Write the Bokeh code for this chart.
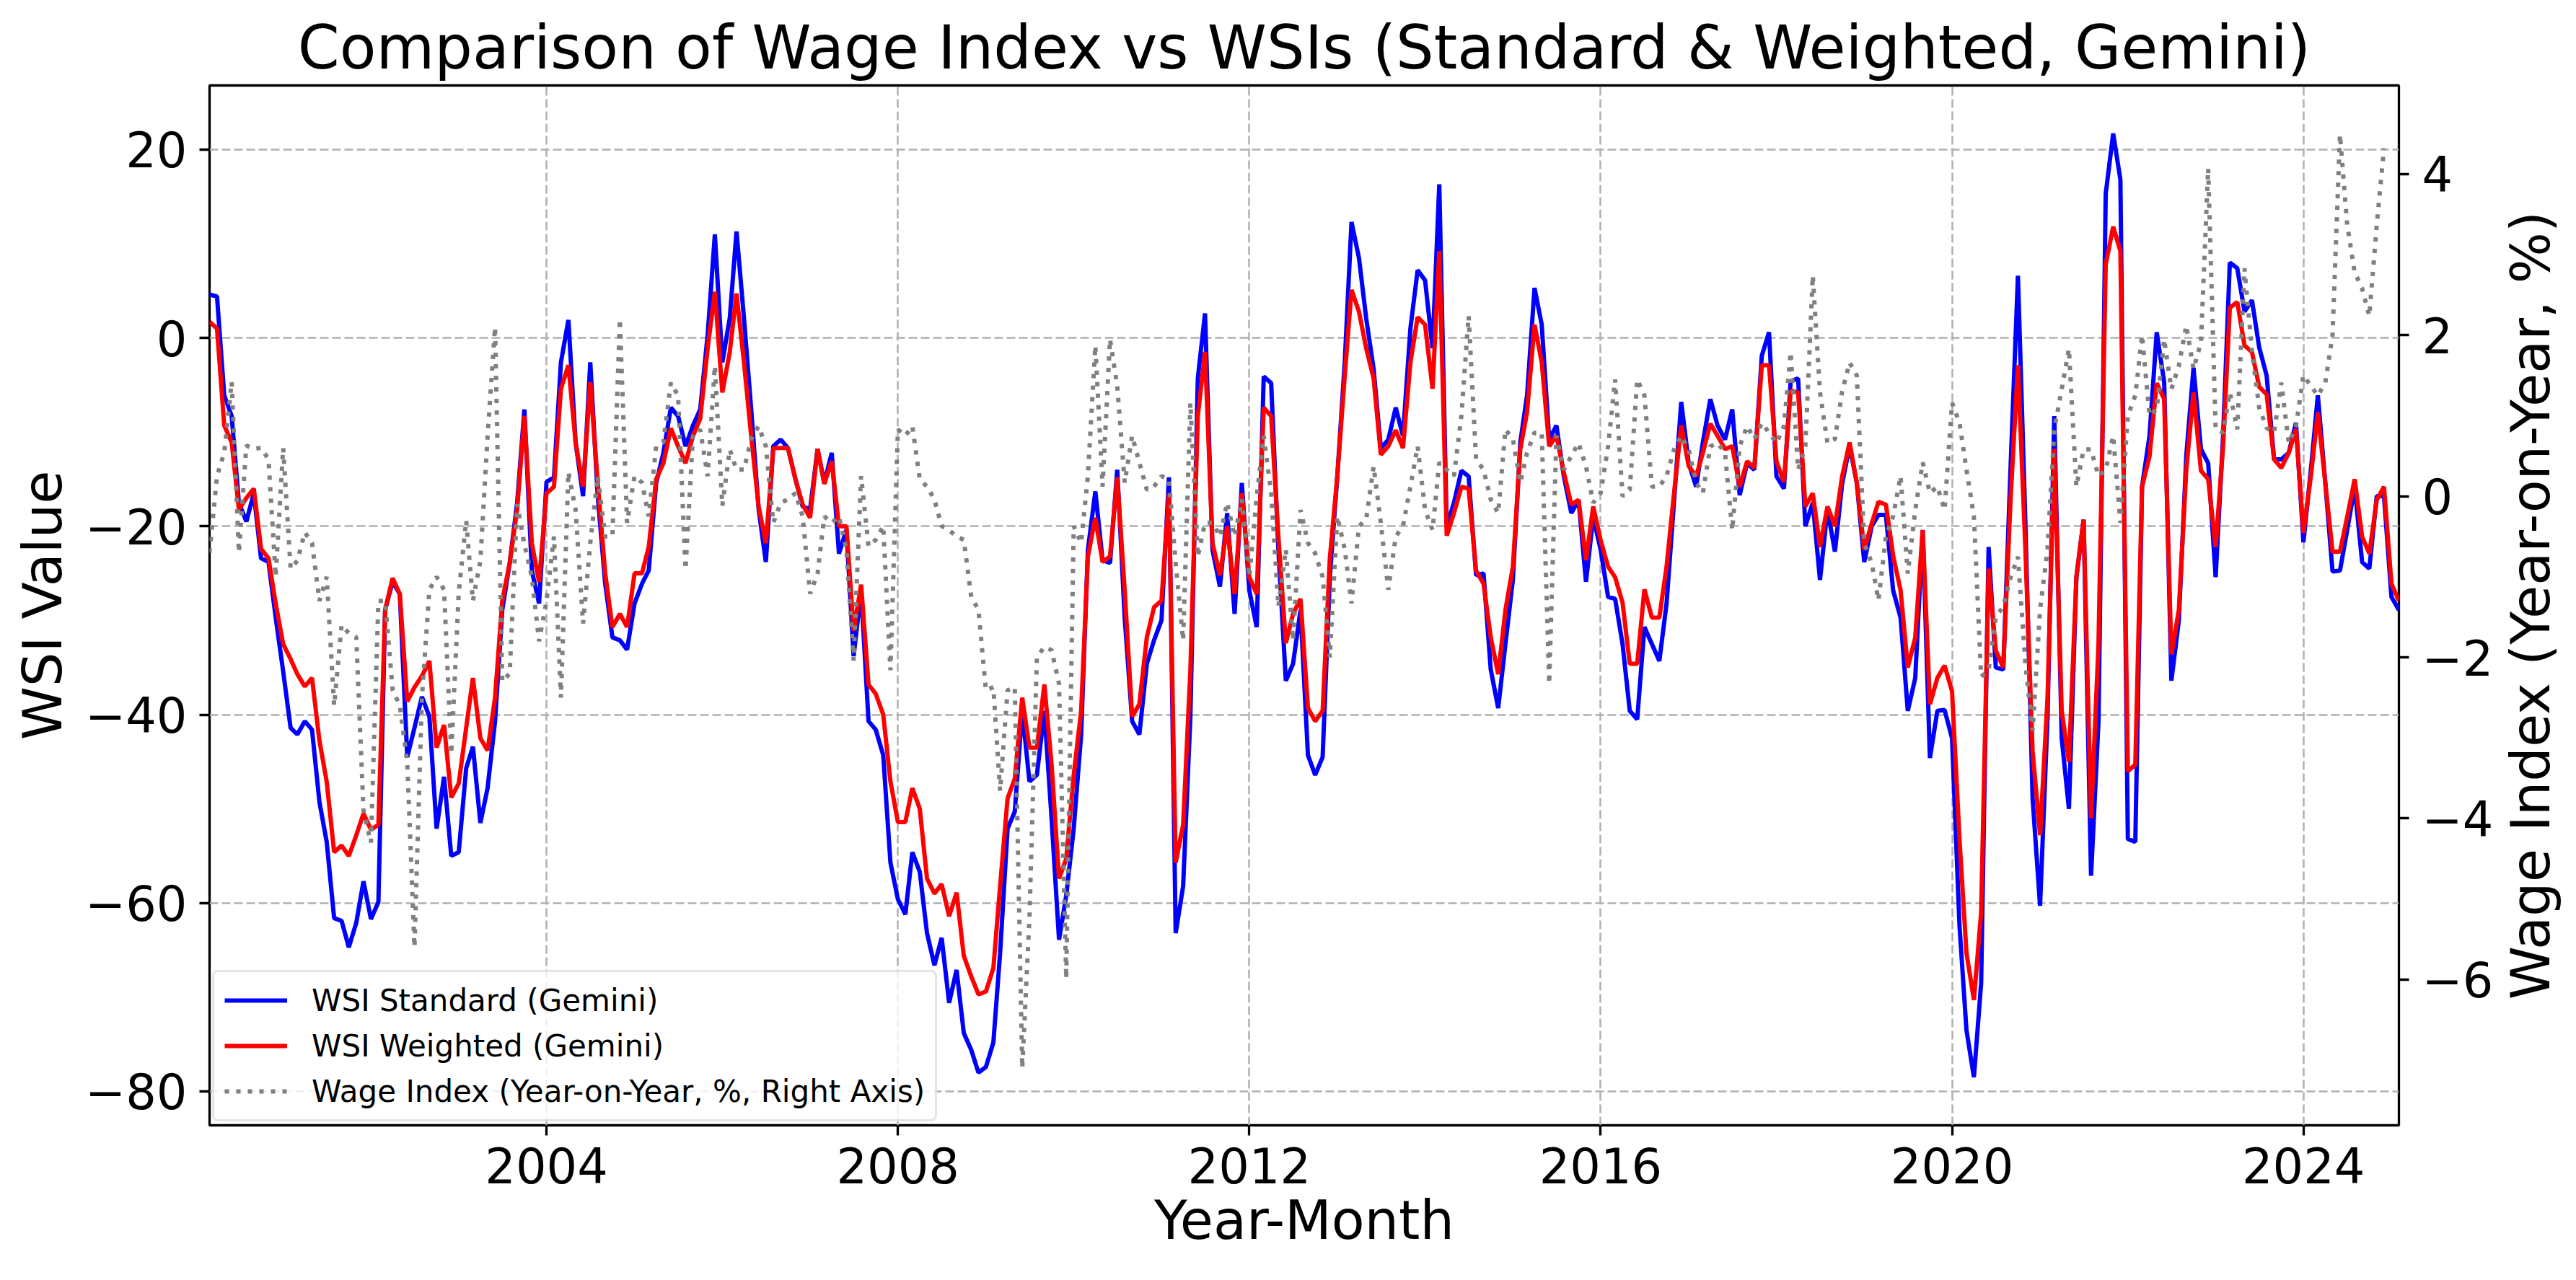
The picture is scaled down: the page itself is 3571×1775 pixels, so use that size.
import pandas as pd
from bokeh.plotting import figure
from bokeh.layouts import row
from bokeh.models import (ColumnDataSource, Range1d, LinearAxis, FixedTicker,
                          CustomJSTickFormatter, Legend, LegendItem)
from bokeh.embed import file_html
from bokeh.resources import INLINE

# ---------------- data (monthly, 2000-03 .. 2025-02) ----------------
start_month = "2000-03-01"

wsi_standard = [
    4.6, 4.4, -6.1, -8.3, -17.5, -19.5, -16.5, -23.4, -23.8, -29.7,
    -35.4, -41.4, -42.1, -40.7, -41.6, -49.3, -53.5, -61.6, -61.9, -64.7,
    -62.1, -57.7, -61.7, -59.9, -28.9, -25.9, -27.2, -44.5, -41.4, -38.1,
    -40.2, -52.1, -46.6, -55.0, -54.6, -45.7, -43.4, -51.5, -47.8, -40.7,
    -28.9, -23.9, -17.5, -7.6, -24.7, -28.2, -15.3, -14.8, -2.6, 1.9,
    -11.1, -16.8, -2.6, -16.8, -26.1, -31.8, -32.1, -33.1, -28.2, -26.1,
    -24.7, -15.4, -12.2, -7.4, -8.3, -11.5, -9.3, -7.6, 0.3, 11.0,
    -2.6, 2.1, 11.3, 2.1, -7.6, -18.2, -23.8, -11.5, -10.8, -11.7,
    -15.0, -17.9, -18.2, -11.8, -15.4, -12.2, -22.9, -20.4, -33.8, -26.8,
    -40.7, -41.6, -44.3, -55.7, -59.6, -61.2, -54.6, -56.7, -63.2, -66.6,
    -63.7, -70.6, -67.1, -73.8, -75.6, -78.0, -77.4, -74.8, -65.3, -52.1,
    -50.3, -39.6, -47.1, -46.4, -39.6, -51.0, -63.9, -59.2, -52.1, -42.1,
    -22.5, -16.3, -23.6, -23.9, -14.0, -29.7, -40.7, -42.1, -34.6, -32.1,
    -30.0, -14.8, -63.2, -58.2, -40.3, -4.3, 2.6, -22.5, -26.4, -18.6,
    -29.3, -15.4, -26.8, -30.7, -4.1, -4.8, -22.5, -36.4, -34.6, -28.9,
    -44.3, -46.4, -44.5, -25.4, -14.7, -2.6, 12.3, 8.5, 2.1, -3.3,
    -11.7, -10.8, -7.4, -10.4, 1.0, 7.2, 6.1, -1.1, 16.3, -20.0,
    -17.5, -14.1, -14.7, -25.2, -25.0, -35.2, -39.3, -32.5, -25.7, -11.1,
    -6.1, 5.3, 1.4, -10.8, -9.3, -14.7, -18.6, -17.2, -25.9, -19.0,
    -22.5, -27.5, -27.7, -32.5, -39.6, -40.5, -30.7, -32.5, -34.3, -28.2,
    -17.4, -6.8, -13.3, -15.8, -11.1, -6.5, -9.3, -10.8, -7.6, -16.7,
    -13.3, -14.0, -1.9, 0.6, -14.7, -16.0, -4.6, -4.3, -20.0, -17.5,
    -25.7, -18.2, -22.7, -15.5, -11.5, -15.4, -23.8, -20.0, -18.8, -18.8,
    -26.8, -29.7, -39.6, -36.1, -20.4, -44.6, -39.6, -39.5, -42.5, -62.4,
    -73.5, -78.5, -68.5, -22.2, -35.0, -35.2, -13.3, 6.6, -19.7, -48.9,
    -60.3, -40.3, -8.3, -42.5, -50.0, -25.4, -19.3, -57.1, -40.7, 15.3,
    21.7, 16.8, -53.2, -53.5, -15.8, -10.4, 0.6, -4.7, -36.4, -30.0,
    -12.5, -3.2, -11.8, -13.3, -25.4, -10.4, 8.0, 7.4, 2.8, 4.0,
    -1.0, -4.0, -12.9, -12.9, -12.2, -9.0, -21.7, -14.0, -6.1, -15.4,
    -24.8, -24.7, -20.4, -15.8, -23.8, -24.5, -16.8, -16.8, -27.5, -28.9,
]

wsi_weighted = [
    1.7, 1.0, -9.3, -11.1, -18.2, -17.0, -16.0, -22.4, -23.4, -28.2,
    -32.5, -34.1, -35.7, -37.0, -36.1, -42.8, -47.1, -54.6, -53.9, -55.0,
    -52.8, -50.5, -52.2, -51.7, -28.9, -25.5, -27.2, -38.6, -37.1, -35.9,
    -34.3, -43.5, -41.1, -48.8, -47.3, -41.4, -36.1, -42.5, -43.8, -38.2,
    -27.9, -23.9, -18.2, -8.3, -21.8, -25.9, -16.5, -15.8, -5.4, -2.9,
    -11.1, -15.8, -4.7, -15.4, -25.0, -30.7, -29.3, -30.7, -25.0, -25.0,
    -22.2, -15.0, -13.3, -9.6, -11.5, -13.3, -10.4, -8.6, -1.1, 4.9,
    -5.8, -1.5, 4.7, -2.6, -10.4, -17.9, -21.8, -11.7, -11.7, -11.7,
    -15.0, -17.7, -19.1, -11.8, -15.5, -13.1, -20.0, -20.0, -31.1, -26.2,
    -36.8, -37.8, -40.0, -47.1, -51.4, -51.4, -47.8, -50.0, -57.4, -59.0,
    -58.0, -61.4, -58.9, -65.6, -67.8, -69.7, -69.4, -66.9, -58.2, -48.9,
    -46.8, -38.2, -43.5, -43.5, -36.8, -45.3, -57.4, -55.3, -46.4, -39.6,
    -23.2, -19.1, -23.8, -23.2, -14.8, -26.8, -40.2, -38.9, -31.8, -28.6,
    -27.9, -16.5, -55.7, -51.7, -35.4, -8.3, -1.5, -21.8, -25.2, -20.0,
    -27.2, -16.5, -25.4, -27.2, -7.4, -8.3, -21.1, -32.4, -29.3, -27.7,
    -39.3, -40.7, -39.6, -23.4, -14.7, -4.0, 5.1, 2.8, -1.1, -4.3,
    -12.4, -11.5, -9.8, -11.7, -2.6, 2.2, 1.4, -5.4, 9.2, -21.0,
    -18.6, -15.8, -16.0, -24.7, -26.1, -31.8, -35.7, -28.9, -24.3, -11.8,
    -7.9, 1.4, -2.6, -11.5, -10.4, -14.3, -17.7, -17.2, -23.6, -17.9,
    -21.5, -24.3, -25.4, -28.1, -34.6, -34.6, -26.7, -29.7, -29.7, -24.3,
    -16.5, -9.3, -13.6, -14.7, -12.2, -9.1, -10.4, -11.8, -11.5, -15.8,
    -13.1, -13.8, -2.9, -2.9, -13.1, -15.3, -5.6, -5.8, -17.9, -16.5,
    -22.2, -17.9, -20.0, -14.7, -11.1, -15.4, -22.5, -19.7, -17.4, -17.7,
    -23.1, -26.8, -35.0, -31.8, -20.4, -38.9, -36.1, -34.8, -37.5, -53.2,
    -65.3, -70.3, -61.0, -24.5, -33.2, -35.0, -16.8, -2.9, -22.5, -43.9,
    -52.8, -38.2, -11.8, -39.6, -45.0, -25.4, -19.3, -51.0, -32.5, 7.8,
    11.8, 9.2, -46.0, -45.3, -15.8, -12.6, -4.8, -6.5, -33.6, -28.9,
    -14.0, -5.8, -14.1, -15.0, -22.2, -11.5, 3.2, 3.8, -0.8, -1.5,
    -5.2, -6.0, -12.9, -13.8, -12.2, -9.7, -20.7, -14.7, -7.9, -15.4,
    -22.7, -22.7, -19.0, -15.0, -21.1, -22.9, -17.2, -15.8, -26.1, -27.9,
]

wage_yoy = [
    -0.7, 0.25, 0.54, 1.42, -0.7, 0.63, 0.59, 0.6, 0.46, -1.0,
    0.6, -0.9, -0.8, -0.45, -0.58, -1.3, -1.0, -2.6, -1.6, -1.7,
    -1.75, -3.9, -4.3, -1.3, -1.3, -2.4, -2.6, -3.3, -5.6, -2.5,
    -1.16, -1.0, -1.16, -3.2, -1.2, -0.3, -1.3, -0.8, 0.75, 2.1,
    -2.3, -2.2, -0.1, -0.6, -1.0, -1.8, -1.3, -0.5, -2.5, 0.3,
    -0.17, -1.58, -0.58, 0.25, -0.5, -0.5, 2.2, -0.33, 0.25, 0.17,
    -0.25, 0.62, 0.67, 1.41, 1.25, -0.91, 0.75, 0.83, 0.25, 1.62,
    -0.12, 0.58, 0.33, 0.33, 0.71, 0.87, 0.62, -0.33, -0.08, -0.04,
    0.04, -0.25, -1.21, -0.96, -0.25, -0.33, -0.25, -0.67, -2.04, 0.25,
    -0.62, -0.54, -0.37, -2.16, 0.83, 0.75, 0.87, 0.21, 0.12, -0.04,
    -0.37, -0.42, -0.5, -0.54, -1.25, -1.41, -2.41, -2.37, -3.66, -2.41,
    -2.37, -7.1, -5.24, -2.0, -1.87, -1.91, -2.33, -5.99, -0.37, -0.58,
    0.25, 1.87, 0.12, 1.95, 1.37, 0.17, 0.75, 0.42, 0.08, 0.12,
    0.25, 0.21, -0.83, -1.79, 1.16, -0.75, -0.33, -0.33, -0.5, -0.08,
    -0.5, -0.04, -1.0, 0.0, 0.75, 0.04, -1.37, -0.66, -1.79, -0.17,
    -0.58, -0.71, -1.0, -2.0, -0.25, -0.66, -1.33, -0.37, -0.29, 0.37,
    -0.33, -1.16, -0.5, -0.37, 0.12, 0.62, -0.17, -0.42, 0.42, 0.33,
    0.25, 1.0, 2.24, 0.46, 0.33, -0.04, -0.21, 0.83, 0.71, 0.17,
    0.54, 0.79, 0.79, -2.33, 0.75, 0.33, 0.5, 0.66, 0.37, -0.08,
    0.04, 0.62, 1.45, 0.0, 0.08, 1.45, 1.25, 0.12, 0.12, 0.25,
    0.58, 0.75, 0.58, 0.17, 0.04, 0.62, 0.66, 0.54, -0.42, 0.62,
    0.87, 0.71, 0.91, 0.79, 0.66, 0.87, 1.79, 0.33, 0.62, 2.74,
    1.29, 0.66, 0.71, 1.3, 1.66, 1.5, -0.58, -0.83, -1.29, -0.5,
    -0.25, 0.25, -0.96, -0.17, 0.42, 0.04, 0.12, -0.17, 1.16, 0.91,
    0.33, -0.25, -2.24, -2.16, -1.5, -1.37, -1.0, -0.75, -2.08, -2.91,
    -1.41, -0.66, 0.83, 1.33, 1.83, 0.12, 0.58, 0.58, 0.25, 0.33,
    0.75, -0.33, 1.0, 1.25, 2.0, 1.0, 1.08, 1.95, 1.33, 1.62,
    2.12, 1.58, 1.91, 4.07, 0.83, 0.79, 1.29, 0.83, 2.83, 1.8,
    1.1, 0.85, 0.79, 1.41, 0.66, 0.87, 1.5, 1.37, 1.25, 1.41,
    2.0, 4.49, 3.37, 2.78, 2.58, 2.24, 3.37, 4.32,
]

left_ticks = [-80, -60, -40, -20, 0, 20]
right_ticks = [-6, -4, -2, 0, 2, 4]
year_ticks = [2004, 2008, 2012, 2016, 2020, 2024]

dates = pd.date_range(start_month, periods=len(wsi_standard), freq="MS")
wage_dates = dates[:len(wage_yoy)]

FONT = "DejaVu Sans"
W, H = 3460, 1767          # main figure
QW = 106                   # narrow strip that carries the right-axis title
LEFT, TOP = 290, 118
RIGHT_EDGE, BOTTOM_EDGE = 3325, 1560

p = figure(width=W, height=H, x_axis_type="datetime",
           output_backend="svg", toolbar_location=None,
           x_range=Range1d(dates[0], dates[-1]),
           y_range=Range1d(-83.6, 26.8),
           min_border_left=LEFT, min_border_right=W - RIGHT_EDGE,
           min_border_top=TOP, min_border_bottom=H - BOTTOM_EDGE)
p.extra_y_ranges = {"wage": Range1d(-7.81, 5.10)}
p.background_fill_color = "white"
p.border_fill_color = "white"
p.outline_line_color = "black"
p.outline_line_width = 3.3
p.outline_line_alpha = 1.0

p.title.text = "Comparison of Wage Index vs WSIs (Standard & Weighted, Gemini)"
p.title.text_font = FONT
p.title.text_font_size = "83px"
p.title.text_font_style = "normal"
p.title.text_color = "black"
p.title.align = "center"
p.title.standoff = 7

minus_fmt = "return tick < 0 ? '\\u2212' + Math.abs(tick) : String(tick);"

xaxis = p.xaxis[0]
yaxis = p.yaxis[0]
year_ms = [pd.Timestamp(f"{y}-01-01").value / 1e6 for y in year_ticks]
xaxis.ticker = FixedTicker(ticks=year_ms)
xaxis.formatter = CustomJSTickFormatter(code="return String(new Date(tick).getUTCFullYear());")
xaxis.axis_label = "Year-Month"
yaxis.ticker = FixedTicker(ticks=left_ticks)
yaxis.formatter = CustomJSTickFormatter(code=minus_fmt)
yaxis.axis_label = "WSI Value"

p.xgrid[0].ticker = xaxis.ticker
p.ygrid[0].ticker = yaxis.ticker
for g in (p.xgrid[0], p.ygrid[0]):
    g.grid_line_color = "#b0b0b0"
    g.grid_line_dash = "12 5"
    g.grid_line_width = 2.5

ax2 = LinearAxis(y_range_name="wage", ticker=FixedTicker(ticks=right_ticks),
                 formatter=CustomJSTickFormatter(code=minus_fmt))
p.add_layout(ax2, "right")

for ax in (xaxis, yaxis, ax2):
    ax.axis_line_color = None
    ax.major_tick_out = 14
    ax.major_tick_in = 0
    ax.major_tick_line_width = 3.3
    ax.major_tick_line_color = "black"
    ax.minor_tick_line_color = None
    ax.major_label_text_font = FONT
    ax.major_label_text_font_size = "67px"
    ax.major_label_text_color = "black"
    ax.axis_label_text_font = FONT
    ax.axis_label_text_font_size = "75px"
    ax.axis_label_text_font_style = "normal"
    ax.axis_label_text_color = "black"
xaxis.major_label_standoff = 16
xaxis.axis_label_standoff = 4
yaxis.major_label_standoff = 17
yaxis.axis_label_standoff = 12
ax2.major_label_standoff = 18

src = ColumnDataSource(dict(date=dates, std=wsi_standard, wtd=wsi_weighted))
wsrc = ColumnDataSource(dict(date=wage_dates, wage=wage_yoy))
r1 = p.line("date", "std", source=src, line_color="blue", line_width=6)
r2 = p.line("date", "wtd", source=src, line_color="red", line_width=6)
r3 = p.line("date", "wage", source=wsrc, y_range_name="wage",
            line_color="gray", line_width=6, line_dash="6 10")

legend = Legend(items=[
    LegendItem(label="WSI Standard (Gemini)", renderers=[r1]),
    LegendItem(label="WSI Weighted (Gemini)", renderers=[r2]),
    LegendItem(label="Wage Index (Year-on-Year, %, Right Axis)", renderers=[r3]),
], location=(4, 5))
legend.label_text_font = FONT
legend.label_text_font_size = "42px"
legend.label_text_color = "black"
legend.glyph_width = 87
legend.glyph_height = 50
legend.label_height = 50
legend.label_standoff = 34
legend.padding = 14
legend.spacing = 13
legend.margin = 0
legend.border_line_color = "#cccccc"
legend.border_line_width = 3
legend.background_fill_alpha = 0.8
if "border_radius" in legend.properties():
    legend.border_radius = 8
p.add_layout(legend)

# narrow strip to the right: its (left) axis title reads bottom-to-top,
# centred on the same vertical extent as the main plot frame
q = figure(width=QW, height=H, output_backend="svg", toolbar_location=None,
           x_axis_location=None, x_range=Range1d(0, 1), y_range=Range1d(0, 1),
           min_border_left=84, min_border_right=0,
           min_border_top=TOP, min_border_bottom=H - BOTTOM_EDGE)
q.outline_line_color = None
q.background_fill_color = "white"
q.border_fill_color = "white"
q.xgrid.visible = False
q.ygrid.visible = False
qa = q.yaxis[0]
qa.ticker = FixedTicker(ticks=[])
qa.axis_line_color = None
qa.major_tick_line_color = None
qa.minor_tick_line_color = None
qa.major_tick_out = 0
qa.major_tick_in = 0
qa.axis_label = "Wage Index (Year-on-Year, %)"
qa.axis_label_standoff = 0
qa.axis_label_text_font = FONT
qa.axis_label_text_font_size = "75px"
qa.axis_label_text_font_style = "normal"
qa.axis_label_text_color = "black"

layout = row(p, q)
open("out.html", "w").write(file_html(layout, INLINE))
